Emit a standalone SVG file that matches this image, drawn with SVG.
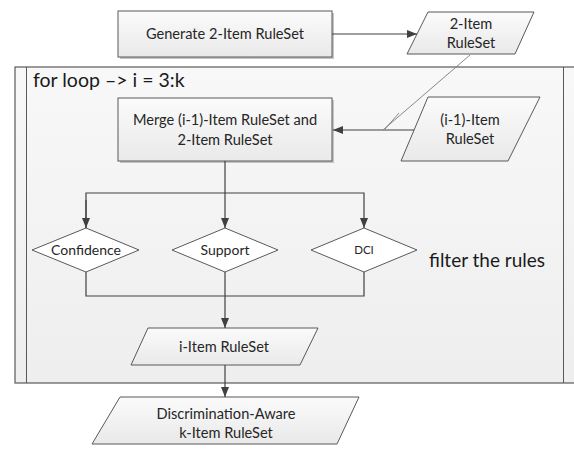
<svg xmlns="http://www.w3.org/2000/svg" width="574" height="452" viewBox="0 0 574 452">
<defs>
<linearGradient id="boxg" x1="0" y1="0" x2="0" y2="1">
<stop offset="0" stop-color="#fbfbfb"/>
<stop offset="1" stop-color="#e9e9e9"/>
</linearGradient>
<linearGradient id="frameg" x1="0" y1="0" x2="0" y2="1">
<stop offset="0" stop-color="#f8f8f8"/>
<stop offset="1" stop-color="#eeeeee"/>
</linearGradient>
<marker id="arr" markerUnits="userSpaceOnUse" markerWidth="10" markerHeight="10" viewBox="0 0 10 10" refX="10" refY="5" orient="auto">
<path d="M0,1 L10,5 L0,9 Z" fill="#404040"/>
</marker>
</defs>
<style>
.shape{fill:url(#boxg);stroke:#595959;stroke-width:1}
.shadow{fill:#c4c4c4}
.dia{fill:#ffffff;stroke:#595959;stroke-width:1}
.line{fill:none;stroke:#404040;stroke-width:1.2}
.thin{fill:none;stroke:#7a7a7a;stroke-width:0.9}
.t{font-family:Lato,"Liberation Sans",sans-serif;font-size:14.6px;fill:#262626;text-anchor:middle}
.big{font-family:Lato,"Liberation Sans",sans-serif;font-size:19.5px;fill:#1a1a1a}
.small{font-family:Lato,"Liberation Sans",sans-serif;font-size:14px;fill:#262626;text-anchor:middle}
</style>
<rect width="574" height="452" fill="#ffffff"/>
<g id="loop">
<rect x="15" y="67" width="600" height="316" fill="url(#frameg)" stroke="#595959" stroke-width="1.2"/>
<line x1="26.5" y1="67" x2="26.5" y2="383" stroke="#595959" stroke-width="1"/>
<line x1="563.5" y1="67" x2="563.5" y2="383" stroke="#595959" stroke-width="1"/>
<text class="big" x="33" y="87">for loop –&gt; i = 3:k</text>
</g>
<g id="generate">
<rect class="shadow" x="120" y="13" width="214" height="46"/>
<rect class="shape" x="118" y="11" width="214" height="46"/>
<text class="t" x="225" y="39">Generate 2-Item RuleSet</text>
</g>
<g id="twoitem">
<polygon class="shape" points="428,12 534,12 515,54 407,54"/>
<text class="t" x="471" y="29">2-Item</text>
<text class="t" x="471" y="48">RuleSet</text>
</g>
<g id="merge">
<rect class="shadow" x="120" y="100" width="214" height="63"/>
<rect class="shape" x="118" y="98" width="214" height="63"/>
<text class="t" x="225" y="125">Merge (i-1)-Item RuleSet and</text>
<text class="t" x="225" y="145">2-Item RuleSet</text>
</g>
<g id="prevset">
<polygon class="shape" points="428,97 540,97 508,161 401,161"/>
<text class="t" x="470" y="125">(i-1)-Item</text>
<text class="t" x="470" y="144">RuleSet</text>
</g>
<g id="confidence">
<polygon class="dia" points="32,250 86,228 139,250 86,272"/>
<text class="small" x="86" y="255">Confidence</text>
</g>
<g id="support">
<polygon class="dia" points="172,250 225,228 278,250 225,272"/>
<text class="small" x="225" y="255">Support</text>
</g>
<g id="dci">
<polygon class="dia" points="311,250 364,228 417,250 364,272"/>
<text class="small" x="364" y="254" style="font-size:11.5px">DCI</text>
</g>
<g id="filter">
<text class="big" x="429" y="267" style="font-size:19px">filter the rules</text>
</g>
<g id="iitem">
<polygon class="shape" points="148,328 318,328 300,365 131,365"/>
<text class="t" x="224" y="352">i-Item RuleSet</text>
</g>
<g id="final">
<polygon class="shape" points="120,397 359,397 337,444 92,444"/>
<text class="t" x="226" y="419">Discrimination-Aware</text>
<text class="t" x="226" y="438">k-Item RuleSet</text>
</g>
<g id="connectors">
<line class="line" x1="332" y1="34" x2="417" y2="34" marker-end="url(#arr)"/>
<line class="line" x1="414" y1="130" x2="333" y2="130" marker-end="url(#arr)"/>
<line class="thin" x1="470" y1="55" x2="383" y2="130"/>
<line class="thin" x1="399" y1="113" x2="385" y2="129"/>
<polyline class="line" points="225,161 225,193"/>
<polyline class="line" points="86,228 86,193 364,193 364,228" marker-end="url(#arr)"/>
<line class="line" x1="86" y1="200" x2="86" y2="228" marker-end="url(#arr)"/>
<line class="line" x1="225" y1="193" x2="225" y2="228" marker-end="url(#arr)"/>
<polyline class="line" points="86,272 86,296 364,296 364,272"/>
<line class="line" x1="225" y1="272" x2="225" y2="328" marker-end="url(#arr)"/>
<line class="line" x1="225" y1="365" x2="225" y2="397" marker-end="url(#arr)"/>
</g>
</svg>
